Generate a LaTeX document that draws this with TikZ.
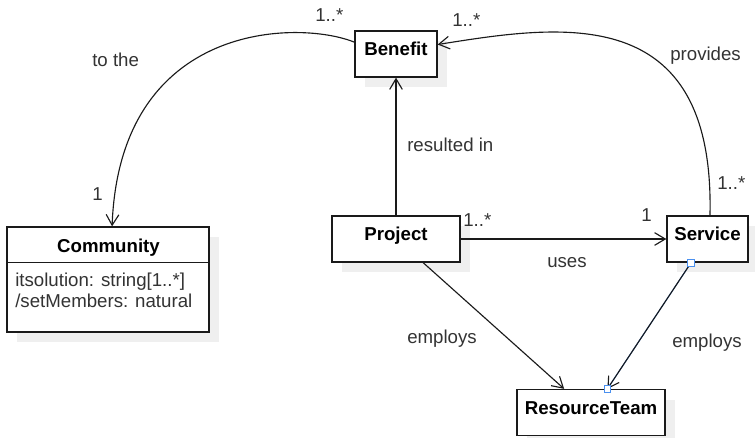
\documentclass[tikz,border=0pt]{standalone}
\usepackage{fontspec}
\setmainfont{Liberation Sans}
\usetikzlibrary{arrows.meta,shadows,calc}
\definecolor{ink}{HTML}{1A1A1A}
\definecolor{labelgray}{HTML}{333333}
\definecolor{shade}{HTML}{EFEFEF}
\definecolor{selblue}{HTML}{4A90F0}

\begin{document}
\begin{tikzpicture}[x=0.75pt,y=-0.75pt,
  basefont/.style={font=\fontsize{14}{17}\selectfont},
  framebox/.style={draw=ink, line width=1pt, fill=white, inner sep=0pt,
    drop shadow={shadow xshift=7.5pt, shadow yshift=-7.5pt, fill=shade, opacity=1}},
  classbox/.style={framebox, font=\fontsize{14}{17}\selectfont\bfseries,
    text=black, text height=18.4pt, text depth=16.1pt},
  lbl/.style={basefont, text=labelgray, anchor=base west, inner sep=0pt},
  assoc/.style={draw=ink, line width=0.85pt,
    -{Straight Barb[length=8pt,width=9.5pt,line width=0.85pt]}},
  handle/.style={draw=selblue, fill=white, line width=0.6pt, inner sep=0pt,
    minimum size=5pt}
]
\useasboundingbox (0,0) rectangle (755,438);

% classes
\node[classbox, minimum width=61.5pt] (ben) at (396,54) {Benefit};
\node[classbox, minimum width=96pt] (proj) at (396,239) {Project};
\node[classbox, minimum width=60.75pt] (srv) at (707.5,239) {Service};
\node[classbox, minimum width=111pt] (rt) at (591,412.5) {ResourceTeam};

% class with an attribute compartment
\node[framebox, minimum width=151.5pt, minimum height=78.75pt] (comm) at (108,279.5) {};
\draw[draw=ink, line width=1pt] ($(comm.north west)+(0,36)$) coordinate (sepl)
  -- ($(comm.north east)+(0,36)$) coordinate (sepr);
\node[basefont, font=\fontsize{14}{17}\selectfont\bfseries, anchor=base, inner sep=0pt]
  (commtitle) at (108.5,252) {Community};
\node[lbl] (attr1) at (15,286.5) {itsolution: string[1..*]};
\node[lbl] (attr2) at (15,307.5) {/setMembers: natural};

% associations
\draw[assoc] ($(ben.north west)!0.25!(ben.south west)$)
  .. controls (300,20) and (120,20) .. ($(comm.north west)!0.52!(comm.north east)$);
\draw[assoc] ($(srv.north west)!0.53!(srv.north east)$)
  .. controls (715,0) and (560,25) .. ($(ben.north east)!0.3!(ben.south east)$);
\draw[assoc] (proj.north) -- (ben.south);
\draw[assoc] (proj.east) -- (srv.west);
\draw[assoc] ($(proj.south west)!0.71!(proj.south east)$) -- ($(rt.north west)!0.32!(rt.north east)$);

% selected association with its handles
\coordinate (selA) at ($(srv.south west)!0.3!(srv.south east)$);
\coordinate (selB) at ($(rt.north west)!0.61!(rt.north east)$);
\draw[selblue, line width=0.8pt, xshift=0.9] (selA) -- (selB);
\draw[assoc] (selA) -- (selB);
\node[handle] (hA) at (selA) {};
\node[handle] (hB) at (selB) {};

% multiplicities and role names
\node[lbl] (m1) at (315,22) {1..*};
\node[lbl] (l1) at (92,67) {to the};
\node[lbl] (m2) at (92,200) {1};
\node[lbl] (m3) at (452,27) {1..*};
\node[lbl] (l2) at (670,60.5) {provides};
\node[lbl] (l3) at (407,152) {resulted in};
\node[lbl] (m4) at (717,190) {1..*};
\node[lbl] (m5) at (463,226) {1..*};
\node[lbl] (m6) at (641,221) {1};
\node[lbl] (l4) at (547,267) {uses};
\node[lbl] (l5) at (407,343) {employs};
\node[lbl] (l6) at (672,347) {employs};
\end{tikzpicture}
\end{document}
